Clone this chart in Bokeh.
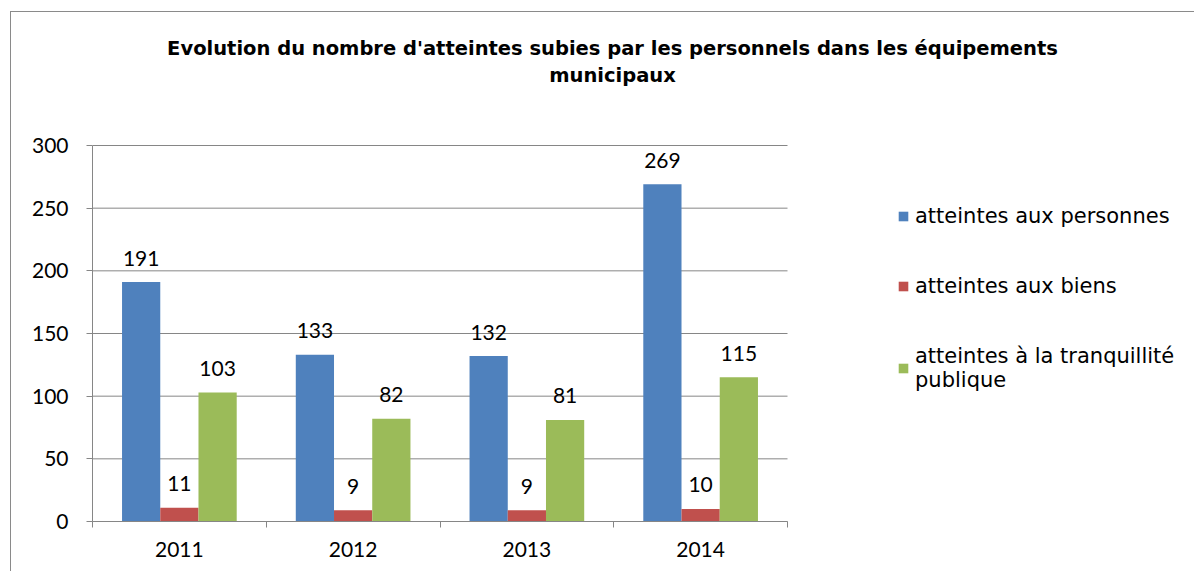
from bokeh.plotting import figure
from bokeh.models import (ColumnDataSource, FixedTicker, Legend, LegendItem,
                          LabelSet, Label, Range1d)
from bokeh.core.properties import value
from bokeh.embed import file_html
from bokeh.resources import INLINE

title_lines = ["Evolution du nombre d'atteintes subies par les personnels dans les équipements",
               "municipaux"]
categories = ["2011", "2012", "2013", "2014"]
series_names = ["atteintes aux personnes", "atteintes aux biens",
                "atteintes à la tranquillité\npublique"]
personnes = [191, 133, 132, 269]
biens = [11, 9, 9, 10]
tranquillite = [103, 82, 81, 115]
y_ticks = [0, 50, 100, 150, 200, 250, 300]

colors = ["#4F81BD", "#C0504D", "#9BBB59"]
series = [personnes, biens, tranquillite]
bar_w = 0.22
offsets = [-bar_w, 0.0, bar_w]

# canvas geometry (pixels)
W, H = 1184, 560
LEFT, BOTTOM = 81, 51          # space for the axes
AREA_W, AREA_H = 695, 376      # size of the bar area inside the canvas
y_max = y_ticks[-1]

p = figure(width=W, height=H, title=None,
           x_range=Range1d(0, len(categories) * (W - LEFT) / AREA_W),
           y_range=Range1d(0, y_max * (H - BOTTOM) / AREA_H),
           output_backend="svg", toolbar_location=None,
           min_border_left=LEFT, min_border_top=0, min_border_right=0,
           min_border_bottom=BOTTOM)
p.margin = (11, 0, 0, 10)
p.styles = {"border-left": "1px solid #8a8a8a", "border-top": "1px solid #8a8a8a"}
p.outline_line_color = None
p.background_fill_color = "white"
p.border_fill_color = "white"
p.xgrid.visible = False
p.ygrid.visible = False

# horizontal grid lines limited to the category span
p.segment(x0=[0] * len(y_ticks), x1=[len(categories)] * len(y_ticks),
          y0=y_ticks, y1=y_ticks, line_color="#868686", line_width=1, level="underlay")

items = []
for vals, off, col, name in zip(series, offsets, colors, series_names):
    xs = [i + 0.5 + off for i in range(len(categories))]
    src = ColumnDataSource(dict(x=xs, top=vals, lab=[str(v) for v in vals]))
    r = p.vbar(x="x", top="top", width=bar_w, source=src, fill_color=col, line_color=None)
    items.append(LegendItem(label=name, renderers=[r]))
    p.add_layout(LabelSet(x="x", y="top", text="lab", source=src, text_align="center",
                          text_baseline="middle", y_offset=24, text_font=value("Lato"),
                          text_font_size="21px", text_color="#000000"))

ya = p.yaxis[0]
ya.bounds = (0, y_max)
ya.ticker = FixedTicker(ticks=y_ticks)
ya.axis_line_color = "#868686"
ya.major_tick_line_color = "#868686"
ya.major_tick_out = 6
ya.major_tick_in = 0
ya.minor_tick_line_color = None
ya.major_label_standoff = 18
ya.major_label_text_font = "Lato"
ya.major_label_text_font_size = "21px"
ya.major_label_text_color = "#000000"

xa = p.xaxis[0]
xa.bounds = (0, len(categories))
xa.ticker = FixedTicker(ticks=[i + 0.5 for i in range(len(categories))],
                        minor_ticks=list(range(len(categories) + 1)))
xa.major_label_overrides = {i + 0.5: c for i, c in enumerate(categories)}
xa.axis_line_color = "#868686"
xa.major_tick_line_color = None
xa.major_tick_out = 0
xa.major_tick_in = 0
xa.minor_tick_line_color = "#868686"
xa.minor_tick_out = 6
xa.minor_tick_in = 0
xa.major_label_standoff = 14
xa.major_label_text_font = "Lato"
xa.major_label_text_font_size = "21px"
xa.major_label_text_color = "#000000"

# title, two centred lines
for txt, yy in zip(title_lines, [473, 446]):
    p.add_layout(Label(x=520, y=yy, x_units="screen", y_units="screen", text=txt,
                       text_align="center", text_baseline="middle",
                       text_font="DejaVu Sans", text_font_style="bold",
                       text_font_size="19.5px", text_color="#000000"))

legend = Legend(items=items, location=(805, 129), orientation="vertical",
                glyph_width=12, glyph_height=12, label_standoff=6, spacing=46,
                padding=0, margin=0, border_line_color=None,
                background_fill_alpha=0, label_text_font="DejaVu Sans",
                label_text_font_size="21px", label_text_line_height=1.33,
                label_text_color="#000000")
p.add_layout(legend)

open("out.html", "w").write(file_html(p, INLINE))
